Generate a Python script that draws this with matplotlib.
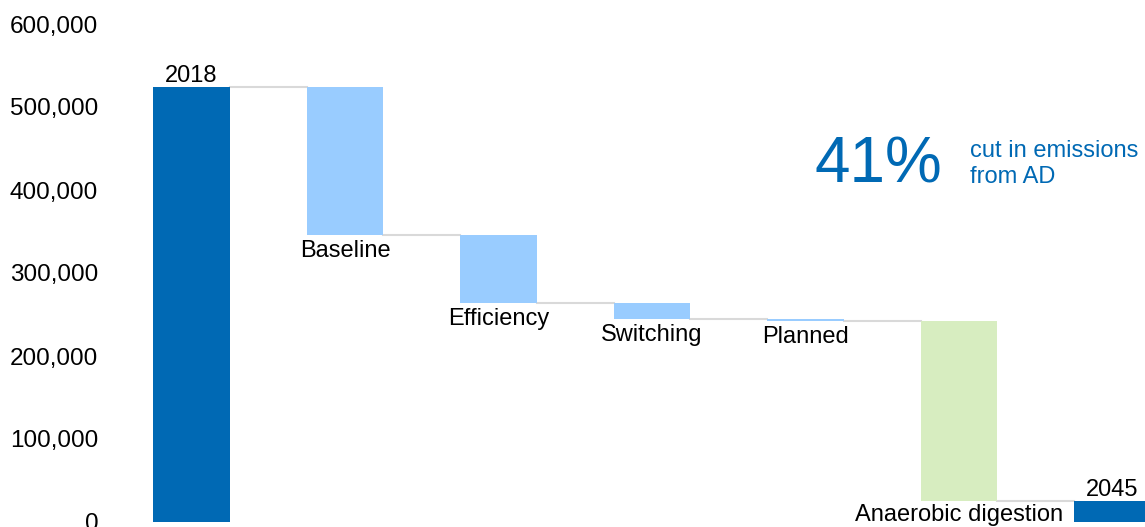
import numpy as np
import matplotlib.pyplot as plt

plt.rcParams['font.family'] = ['Liberation Sans', 'DejaVu Sans']

# data
categories = ["2018", "Baseline", "Efficiency", "Switching", "Planned",
              "Anaerobic digestion", "2045"]
start_2018 = 524000
reductions = [178000, 82000, 19000, 2500, 217000]

dark_blue = '#0069b4'
light_blue = '#99ccff'
green = '#d7edc0'
grid_grey = '#d9d9d9'

# cumulative levels
levels = [start_2018]
for r in reductions:
    levels.append(levels[-1] - r)
end_2045 = levels[-1]

bottoms = [0]
heights = [start_2018]
colors = [dark_blue]
for i, r in enumerate(reductions):
    bottoms.append(levels[i + 1])
    heights.append(r)
    colors.append(green if i == len(reductions) - 1 else light_blue)
bottoms.append(0)
heights.append(end_2045)
colors.append(dark_blue)

x = np.arange(len(categories))
w = 0.5

fig = plt.figure(figsize=(11.45, 5.27), dpi=100)
ax = fig.add_axes([110 / 1145, 5 / 527, 1035 / 1145, 498 / 527])

ax.bar(x, heights, bottom=bottoms, width=w, color=colors, zorder=2)

# connector lines between bars
for i in range(len(categories) - 1):
    lvl = bottoms[i] + heights[i] if i == 0 else bottoms[i]
    ax.plot([x[i] + w / 2, x[i + 1] - w / 2], [lvl, lvl],
            color=grid_grey, lw=1.5, zorder=1)

# labels
ax.annotate(categories[0], (x[0], heights[0]), xytext=(0, 0),
            textcoords='offset points', ha='center', va='bottom', fontsize=17)
ax.annotate(categories[-1], (x[-1], heights[-1]), xytext=(0, 0),
            textcoords='offset points', ha='center', va='bottom', fontsize=17)
for i in range(1, len(categories) - 1):
    off = -2 if i == len(categories) - 2 else -4
    ax.annotate(categories[i], (x[i], bottoms[i]), xytext=(0, off),
                textcoords='offset points', ha='center', va='top', fontsize=17)

ax.text(0.681, 0.681, "41%", transform=ax.transAxes, fontsize=46,
        color=dark_blue, ha='left', va='baseline')
ax.text(0.831, 0.681, "cut in emissions\nfrom AD", transform=ax.transAxes,
        fontsize=17, color=dark_blue, ha='left', va='baseline',
        linespacing=1.2)

ax.set_xlim(-0.531, 6.212)
ax.set_ylim(0, 600000)
ax.set_yticks(np.arange(0, 600001, 100000))
ax.yaxis.set_major_formatter(plt.FuncFormatter(lambda v, p: f"{int(v):,}"))
ax.tick_params(axis='y', length=0, labelsize=17.5, pad=8.5)
ax.set_xticks([])
for s in ax.spines.values():
    s.set_visible(False)

fig.savefig("out.png", dpi=100)
